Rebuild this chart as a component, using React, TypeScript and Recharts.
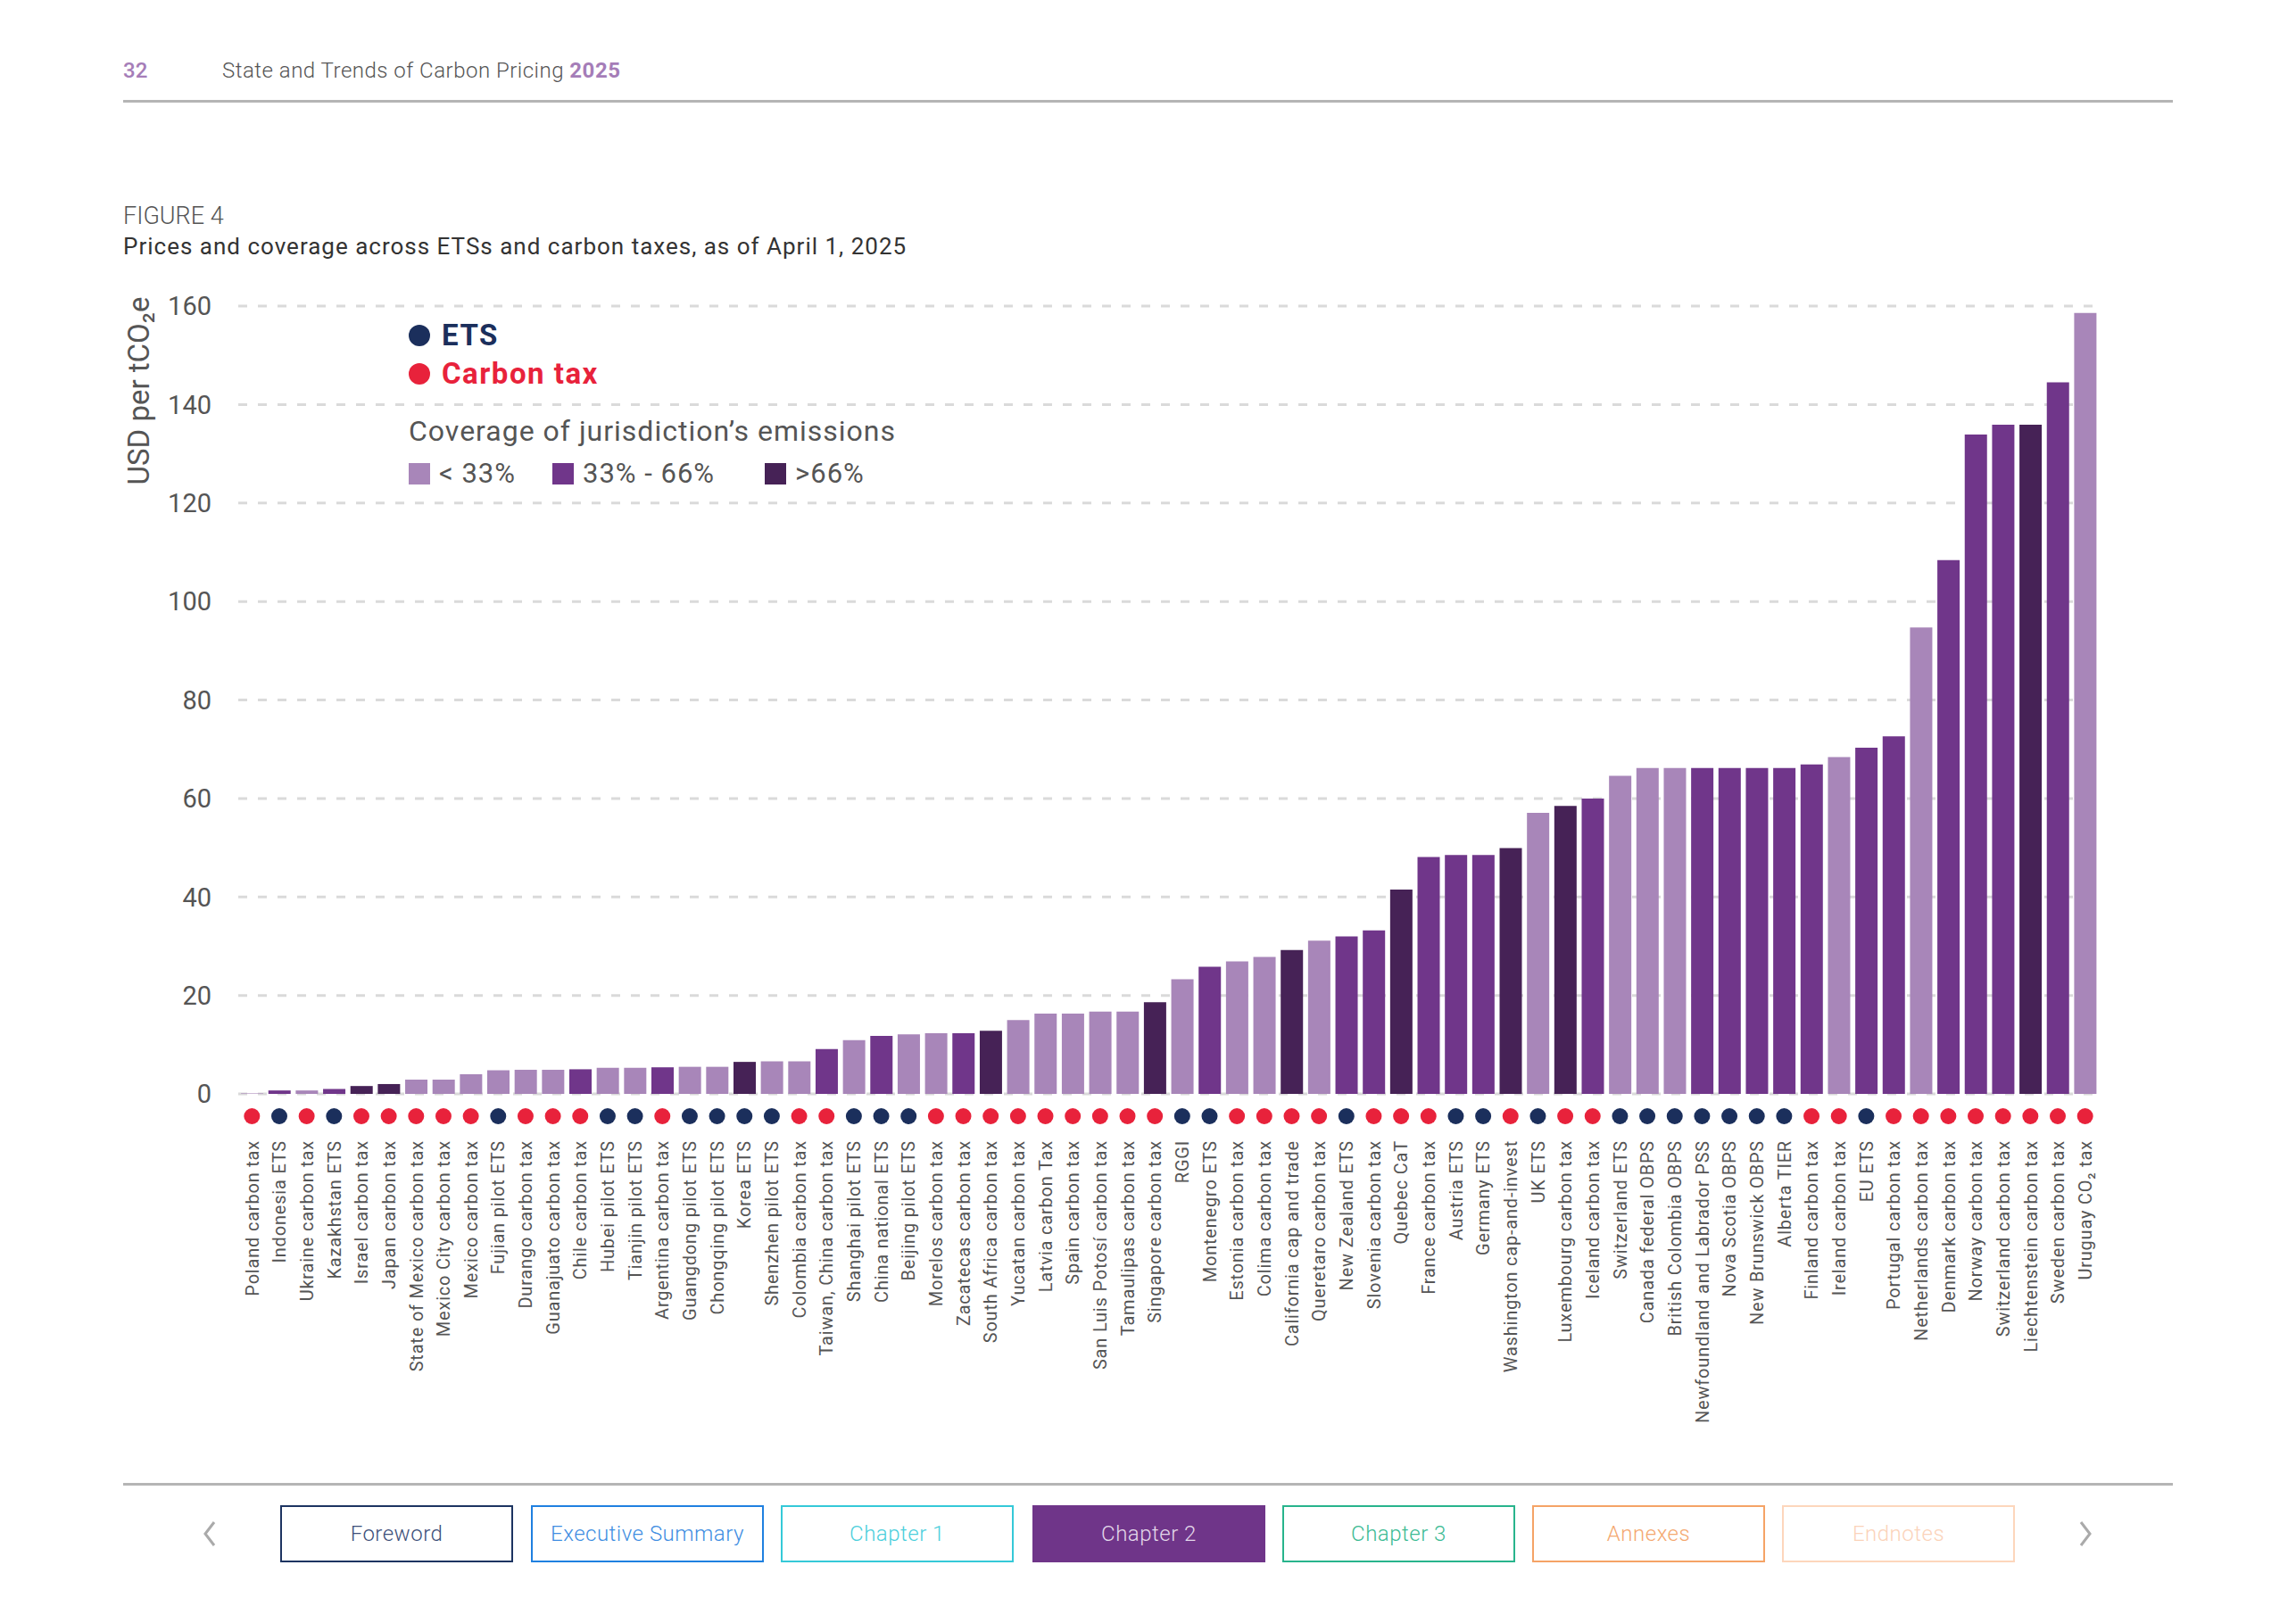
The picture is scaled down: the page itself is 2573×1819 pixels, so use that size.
import React from 'react';
import { BarChart, Bar, XAxis, YAxis, CartesianGrid, Cell } from 'recharts';

const categories = [
  'Poland carbon tax', 'Indonesia ETS', 'Ukraine carbon tax', 'Kazakhstan ETS', 'Israel carbon tax',
  'Japan carbon tax', 'State of Mexico carbon tax', 'Mexico City carbon tax', 'Mexico carbon tax', 'Fujian pilot ETS',
  'Durango carbon tax', 'Guanajuato carbon tax', 'Chile carbon tax', 'Hubei pilot ETS', 'Tianjin pilot ETS',
  'Argentina carbon tax', 'Guangdong pilot ETS', 'Chongqing pilot ETS', 'Korea ETS', 'Shenzhen pilot ETS',
  'Colombia carbon tax', 'Taiwan, China carbon tax', 'Shanghai pilot ETS', 'China national ETS', 'Beijing pilot ETS',
  'Morelos carbon tax', 'Zacatecas carbon tax', 'South Africa carbon tax', 'Yucatan carbon tax', 'Latvia carbon Tax',
  'Spain carbon tax', 'San Luis Potosí carbon tax', 'Tamaulipas carbon tax', 'Singapore carbon tax', 'RGGI',
  'Montenegro ETS', 'Estonia carbon tax', 'Colima carbon tax', 'California cap and trade', 'Queretaro carbon tax',
  'New Zealand ETS', 'Slovenia carbon tax', 'Quebec CaT', 'France carbon tax', 'Austria ETS',
  'Germany ETS', 'Washington cap-and-invest', 'UK ETS', 'Luxembourg carbon tax', 'Iceland carbon tax',
  'Switzerland ETS', 'Canada federal OBPS', 'British Colombia OBPS', 'Newfoundland and Labrador PSS', 'Nova Scotia OBPS',
  'New Brunswick OBPS', 'Alberta TIER', 'Finland carbon tax', 'Ireland carbon tax', 'EU ETS',
  'Portugal carbon tax', 'Netherlands carbon tax', 'Denmark carbon tax', 'Norway carbon tax', 'Switzerland carbon tax',
  'Liechtenstein carbon tax', 'Sweden carbon tax', 'Uruguay CO\u2082 tax',
];

const prices = [
  0.1, 0.7, 0.7, 1.0, 1.6,
  2.0, 2.9, 2.9, 4.0, 4.8,
  4.9, 4.9, 5.0, 5.3, 5.3,
  5.4, 5.5, 5.5, 6.5, 6.6,
  6.6, 9.1, 10.9, 11.8, 12.1,
  12.3, 12.3, 12.8, 15.0, 16.3,
  16.3, 16.7, 16.7, 18.6, 23.3,
  25.8, 26.9, 27.8, 29.2, 31.1,
  32.0, 33.2, 41.5, 48.1, 48.5,
  48.5, 49.9, 57.1, 58.5, 60.0,
  64.6, 66.2, 66.2, 66.2, 66.2,
  66.2, 66.2, 66.9, 68.4, 70.3,
  72.6, 94.7, 108.4, 133.9, 135.9,
  135.9, 144.5, 158.6,
];

// L: < 33%, M: 33% - 66%, H: > 66%
const coverage = [
  'L', 'M', 'L', 'M', 'H',
  'H', 'L', 'L', 'L', 'L',
  'L', 'L', 'M', 'L', 'L',
  'M', 'L', 'L', 'H', 'L',
  'L', 'M', 'L', 'M', 'L',
  'L', 'M', 'H', 'L', 'L',
  'L', 'L', 'L', 'H', 'L',
  'M', 'L', 'L', 'H', 'L',
  'M', 'M', 'H', 'M', 'M',
  'M', 'H', 'L', 'H', 'M',
  'L', 'L', 'L', 'M', 'M',
  'M', 'M', 'M', 'L', 'M',
  'M', 'L', 'M', 'M', 'M',
  'H', 'M', 'L',
];

// E: ETS, T: carbon tax
const instrumentType = [
  'T', 'E', 'T', 'E', 'T',
  'T', 'T', 'T', 'T', 'E',
  'T', 'T', 'T', 'E', 'E',
  'T', 'E', 'E', 'E', 'E',
  'T', 'T', 'E', 'E', 'E',
  'T', 'T', 'T', 'T', 'T',
  'T', 'T', 'T', 'T', 'E',
  'E', 'T', 'T', 'T', 'T',
  'E', 'T', 'T', 'T', 'E',
  'E', 'T', 'E', 'T', 'T',
  'E', 'E', 'E', 'E', 'E',
  'E', 'E', 'T', 'T', 'E',
  'T', 'T', 'T', 'T', 'T',
  'T', 'T', 'T',
];

const yTicks = [0, 20, 40, 60, 80, 100, 120, 140, 160];

const coverageLegend = [
  { key: 'L', label: '< 33%' },
  { key: 'M', label: '33% - 66%' },
  { key: 'H', label: '>66%' },
];

const navItems = ['Foreword', 'Executive Summary', 'Chapter 1', 'Chapter 2', 'Chapter 3', 'Annexes', 'Endnotes'];

const coverageColors: Record<string, string> = { L: '#a886b9', M: '#70368a', H: '#462256' };
const typeColors: Record<string, string> = { E: '#1b2f5c', T: '#e8223b' };

const navStyles = [
  { border: '#1d3461', color: '#3d4f7a', bg: '#ffffff' },
  { border: '#1f80e0', color: '#3f8ee2', bg: '#ffffff' },
  { border: '#35c9d8', color: '#4ccfdc', bg: '#ffffff' },
  { border: '#6f3589', color: '#e3d8ea', bg: '#6f3589' },
  { border: '#28b48c', color: '#3cbb94', bg: '#ffffff' },
  { border: '#f5a366', color: '#f4a870', bg: '#ffffff' },
  { border: '#fdd6bc', color: '#fbd3ba', bg: '#ffffff' },
];

const data = categories.map((name, i) => ({
  name,
  price: prices[i],
  coverage: coverage[i],
  type: instrumentType[i],
}));

const FONT = 'Roboto, "Noto Sans", Arial, sans-serif';

const XTick = (props: any) => {
  const { x, y, payload, index } = props;
  const i = payload && payload.index != null ? payload.index : index;
  const t = instrumentType[i];
  return (
    <g transform={`translate(${x},${y})`}>
      <circle cx={0} cy={25} r={9} fill={typeColors[t]} />
      <text
        transform="rotate(-90)"
        x={-52}
        y={0}
        dy="0.36em"
        textAnchor="end"
        fontSize={20}
        letterSpacing={0.8}
        fontFamily={FONT}
        fill="#555555"
      >
        {payload.value}
      </text>
    </g>
  );
};

const abs = (style: React.CSSProperties): React.CSSProperties => ({ position: 'absolute', ...style });

export default function App() {
  return (
    <div style={{ position: 'absolute', left: 0, top: 0, width: 2573, height: 1819, background: '#ffffff', fontFamily: FONT, overflow: 'hidden' }}>
      {/* Header */}
      <div style={abs({ left: 138, top: 64, lineHeight: '30px', fontSize: 24, fontWeight: 500, color: '#a57db8' })}>32</div>
      <div style={abs({ left: 249, top: 64, lineHeight: '30px', fontSize: 24, fontWeight: 300, letterSpacing: 0.5, color: '#555555', whiteSpace: 'nowrap' })}>
        State and Trends of Carbon Pricing <span style={{ fontWeight: 700, color: '#a57db8' }}>2025</span>
      </div>
      <div style={abs({ left: 138, top: 112, width: 2297, height: 3, background: '#b5b5b5' })} />

      {/* Titles */}
      <div style={abs({ left: 138, top: 227, lineHeight: '30px', fontSize: 27, fontWeight: 300, color: '#555555' })}>FIGURE 4</div>
      <div style={abs({ left: 138, top: 261, lineHeight: '30px', fontSize: 26, fontWeight: 400, letterSpacing: 1, color: '#333333', whiteSpace: 'nowrap' })}>
        Prices and coverage across ETSs and carbon taxes, as of April 1, 2025
      </div>

      {/* Chart */}
      <div style={abs({ left: 0, top: 0 })}>
        <BarChart
          width={2573}
          height={1819}
          data={data}
          margin={{ top: 343, right: 221, bottom: 193, left: 0 }}
          barCategoryGap="10%"
        >
          <CartesianGrid vertical={false} stroke="#dadada" strokeWidth={3} strokeDasharray="10 12" />
          <YAxis
            type="number"
            domain={[0, 160]}
            ticks={yTicks}
            width={267}
            axisLine={false}
            tickLine={false}
            tickSize={0}
            tickMargin={30}
            tick={{ fontSize: 29, fill: '#555555', fontFamily: FONT }}
          />
          <XAxis
            dataKey="name"
            interval={0}
            height={400}
            axisLine={false}
            tickLine={false}
            tickSize={0}
            tickMargin={0}
            tick={<XTick />}
          />
          <Bar dataKey="price" isAnimationActive={false}>
            {data.map((d, i) => (
              <Cell key={i} fill={coverageColors[d.coverage]} />
            ))}
          </Bar>
        </BarChart>
      </div>

      {/* Y axis title */}
      <div
        style={abs({
          left: 156,
          top: 438,
          transform: 'translate(-50%, -50%) rotate(-90deg)',
          whiteSpace: 'nowrap',
          fontSize: 33,
          color: '#555555',
          lineHeight: '36px',
        })}
      >
        USD per tCO{'\u2082'}e
      </div>

      {/* Legend */}
      <div style={abs({ left: 458, top: 364, width: 24, height: 24, borderRadius: 12, background: typeColors.E })} />
      <div style={abs({ left: 495, top: 358, lineHeight: '36px', fontSize: 33, fontWeight: 700, letterSpacing: 1.5, color: typeColors.E })}>ETS</div>
      <div style={abs({ left: 458, top: 407, width: 24, height: 24, borderRadius: 12, background: typeColors.T })} />
      <div style={abs({ left: 495, top: 401, lineHeight: '36px', fontSize: 33, fontWeight: 700, letterSpacing: 1.5, color: typeColors.T })}>Carbon tax</div>
      <div style={abs({ left: 458, top: 465, lineHeight: '36px', fontSize: 32, fontWeight: 400, letterSpacing: 1, color: '#555555', whiteSpace: 'nowrap' })}>
        Coverage of jurisdiction{'\u2019'}s emissions
      </div>
      {coverageLegend.map((c, i) => {
        const lefts = [458, 619, 857];
        return (
          <React.Fragment key={c.key}>
            <div style={abs({ left: lefts[i], top: 519, width: 24, height: 24, background: coverageColors[c.key] })} />
            <div style={abs({ left: lefts[i] + 34, top: 513, lineHeight: '36px', fontSize: 31, letterSpacing: 1, color: '#555555', whiteSpace: 'nowrap' })}>
              {c.label}
            </div>
          </React.Fragment>
        );
      })}

      {/* Footer nav */}
      <div style={abs({ left: 138, top: 1662, width: 2297, height: 3, background: '#b5b5b5' })} />
      <svg style={abs({ left: 0, top: 0 })} width={2573} height={1819} pointerEvents="none">
        <polyline points="240,1706 230,1719 240,1732" fill="none" stroke="#aaaaaa" strokeWidth={3} />
        <polyline points="2332,1706 2342,1719 2332,1732" fill="none" stroke="#aaaaaa" strokeWidth={3} />
      </svg>
      {navItems.map((n, i) => {
        const lefts = [314, 595, 875, 1157, 1437, 1717, 1997];
        const s = navStyles[i];
        return (
          <div
            key={n}
            style={abs({
              left: lefts[i],
              top: 1687,
              width: 261,
              height: 64,
              boxSizing: 'border-box',
              border: `2px solid ${s.border}`,
              background: s.bg,
              color: s.color,
              fontSize: 24,
              fontWeight: 300,
              letterSpacing: 0.5,
              display: 'flex',
              alignItems: 'center',
              justifyContent: 'center',
            })}
          >
            {n}
          </div>
        );
      })}
    </div>
  );
}
